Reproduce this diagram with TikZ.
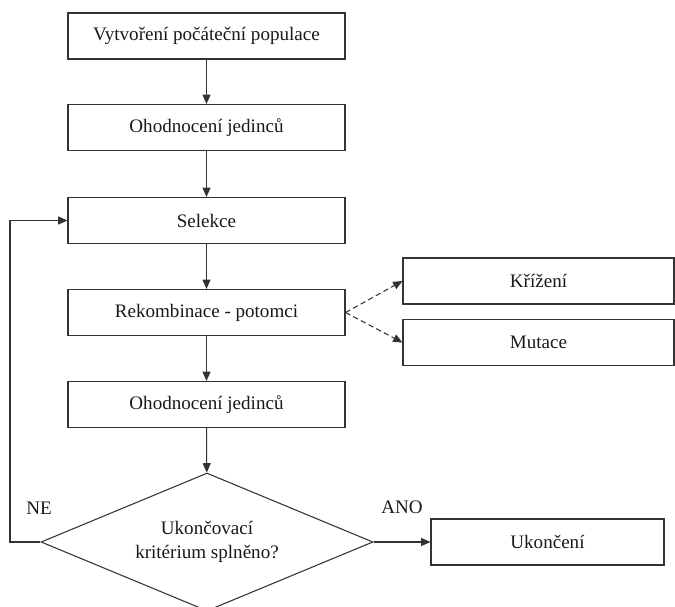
\documentclass[tikz,border=0pt]{standalone}
\usepackage{fontspec}
\setmainfont{Liberation Serif}
\usetikzlibrary{shapes.geometric,arrows.meta}
\begin{document}
\begin{tikzpicture}[x=0.75pt,y=-0.75pt,
  every node/.style={font=\fontsize{14.3}{18.5}\selectfont, text=black!90},
  box/.style={draw=black!80,line width=0.8pt,minimum width=207.75pt,minimum height=34.5pt,inner sep=0pt},
  sidebox/.style={draw=black!80,line width=0.8pt,minimum width=203.25pt,minimum height=34.5pt,inner sep=0pt},
  endbox/.style={draw=black!80,line width=0.8pt,minimum width=174.75pt,minimum height=34.5pt,inner sep=0pt},
  decision/.style={draw=black!80,line width=0.8pt,diamond,shape aspect=2.4,minimum width=249pt,minimum height=103.5pt,inner sep=0pt,align=center},
  conn/.style={draw=black!80,line width=0.8pt,-{Triangle[length=7pt,width=6pt]}},
  dconn/.style={conn,dash pattern=on 4pt off 2.5pt}
]
\useasboundingbox (0,0) rectangle (675,607);
\node[box] (b1) at (206.5,36) {Vytvoření počáteční populace};
\node[box] (b2) at (206.5,127.5) {Ohodnocení jedinců};
\node[box] (b3) at (206.5,220.5) {Selekce};
\node[box] (b4) at (206.5,312.5) {Rekombinace - potomci};
\node[box] (b5) at (206.5,404.5) {Ohodnocení jedinců};
\node[decision] (d) at (207,542) {Ukončovací\\kritérium splněno?};
\node[sidebox] (kr) at (538.5,281) {Křížení};
\node[sidebox] (mu) at (538.5,342.5) {Mutace};
\node[endbox] (uk) at (547.5,542) {Ukončení};
\node (ne) at (39,508) {NE};
\node (ano) at (402,507) {ANO};
\coordinate (lb) at (10,542);
\coordinate (lt) at (10,220.5);
\draw[conn] (b1) -- (b2);
\draw[conn] (b2) -- (b3);
\draw[conn] (b3) -- (b4);
\draw[conn] (b4) -- (b5);
\draw[conn] (b5) -- (d);
\draw[conn] (d) -- (uk);
\draw[conn] (d.west) -- (lb) -- (lt) -- (b3.west);
\draw[dconn] (b4.east) -- (kr.west);
\draw[dconn] (b4.east) -- (mu.west);
\end{tikzpicture}
\end{document}
